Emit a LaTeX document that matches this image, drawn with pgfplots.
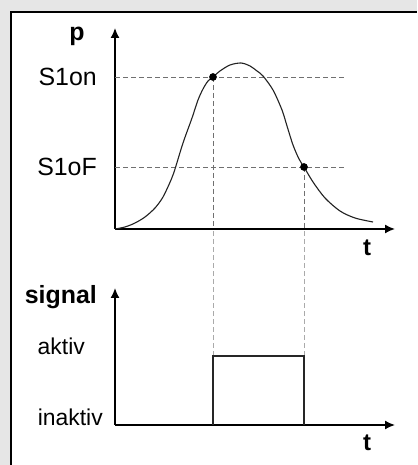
\documentclass[border=0pt]{standalone}
\usepackage{fontspec}
\setmainfont{Liberation Sans}
\usepackage{pgfplots}
\pgfplotsset{compat=1.18}
\usetikzlibrary{arrows.meta}
\definecolor{bg}{HTML}{E6E6E6}
\definecolor{dashc}{HTML}{707070}
\definecolor{dashl}{HTML}{AAAAAA}
\definecolor{curvec}{HTML}{222222}
\begin{document}
\begin{tikzpicture}[x=1bp,y=1bp]
\path[use as bounding box] (0,0) rectangle (417,465);
\fill[bg] (0,0) rectangle (417,465);
\fill[white] (11,0) rectangle (417,453);
\draw[line width=2bp] (11,0) -- (11,453) -- (417,453);
\pgfplotsset{diag/.style={
  scale only axis, axis lines=left,
  axis line style={line width=1.6bp, -{Latex[length=10bp,width=9bp]}},
  xmin=0, xmax=280, ymin=0, xtick=\empty, clip=false,
  width=280bp, anchor=south west, major tick length=0pt,
  yticklabel style={font=\fontsize{25}{30}\selectfont, inner sep=0pt, xshift=-18bp},
}}
% --- top: pressure curve ---
\begin{axis}[diag, at={(115,236)}, height=201bp, ymax=201,
  ytick={62,152}, yticklabels={S1oF,S1on}]
\addplot[dashc, line width=0.8bp, dash pattern=on 5bp off 3bp] coordinates {(0,152) (230,152)};
\addplot[dashc, line width=0.8bp, dash pattern=on 5bp off 3bp] coordinates {(0,62) (230,62)};
\addplot[dashc, line width=0.8bp, dash pattern=on 5bp off 3bp] coordinates {(98,152) (98,0)};
\addplot[dashc, line width=0.8bp, dash pattern=on 5bp off 3bp] coordinates {(189,62) (189,0)};
\addplot[curvec, line width=1.1bp, smooth, tension=0.5] coordinates {
(0,0) (10,2) (20,6) (30,12) (40,21) (48,32) (56,49) (60,60) (68,86) (77,111)
(83,129) (88,140) (93,148) (98,152) (105,158) (115,164) (126,166) (135,163)
(142,158) (148,153) (158,139) (167,119) (172,103) (178,84) (184,70) (189,62)
(198,47) (210,31) (225,18) (240,11) (258,7)};
\addplot[only marks, mark=*, mark size=3.6bp, black] coordinates {(98,152) (189,62)};
\end{axis}
% --- bottom: signal ---
\begin{axis}[diag, at={(115,40)}, height=137bp, ymax=137, ytick=\empty]
\addplot[dashl, line width=0.8bp, dash pattern=on 5bp off 3bp] coordinates {(98,69) (98,196)};
\addplot[dashl, line width=0.8bp, dash pattern=on 5bp off 3bp] coordinates {(189,69) (189,196)};
\addplot[black!85, line width=1.3bp] coordinates {(98,0) (98,69) (189,69) (189,0)};
\end{axis}
\node[font=\fontsize{25}{30}\selectfont\bfseries] at (77,429) {p};
\node[font=\fontsize{24}{28}\selectfont\bfseries] at (367,217) {t};
\node[font=\fontsize{24}{28}\selectfont\bfseries] at (367,22) {t};
\node[font=\fontsize{25}{30}\selectfont\bfseries, anchor=east, inner sep=0pt] at (97,168) {signal};
\node[font=\fontsize{23}{27}\selectfont, anchor=east, inner sep=0pt] at (85,119) {aktiv};
\node[font=\fontsize{23}{27}\selectfont, anchor=east, inner sep=0pt] at (103,48) {inaktiv};
\end{tikzpicture}
\end{document}
